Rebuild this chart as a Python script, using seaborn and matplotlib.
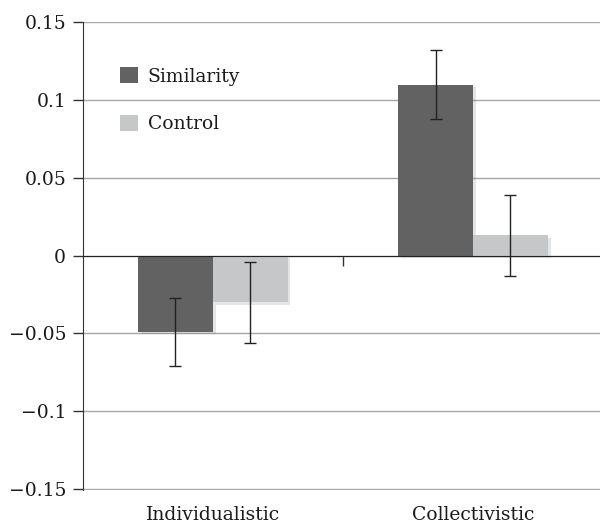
import matplotlib
matplotlib.use("Agg")
import matplotlib.pyplot as plt
import matplotlib.patheffects as pe
from matplotlib.patches import Patch
import seaborn as sns
import pandas as pd

categories = ["Individualistic", "Collectivistic"]
groups = ["Similarity", "Control"]
similarity = [-0.049, 0.110]
control = [-0.030, 0.013]
similarity_err = [0.022, 0.022]
control_err = [0.026, 0.026]
y_ticks = [-0.15, -0.1, -0.05, 0, 0.05, 0.1, 0.15]
y_labels = ["\u22120.15", "\u22120.1", "\u22120.05", "0", "0.05", "0.1", "0.15"]

colors = ["#626262", "#c6c7c8"]

df = pd.DataFrame({
    "culture": categories * 2,
    "condition": [groups[0]] * 2 + [groups[1]] * 2,
    "value": similarity + control,
    "err": similarity_err + control_err,
})

sns.set_style("white")
plt.rcParams["font.family"] = ["DejaVu Serif"]
plt.rcParams["text.color"] = "#1a1a1a"
plt.rcParams["xtick.color"] = "#1a1a1a"
plt.rcParams["ytick.color"] = "#1a1a1a"

fig = plt.figure(figsize=(6, 5.27), dpi=100)
ax = fig.add_axes([0.138, 0.071, 0.862, 0.887])

sns.barplot(data=df, x="culture", y="value", hue="condition", order=categories,
            hue_order=groups, palette=colors, width=0.575, errorbar=None,
            saturation=1, legend=False, ax=ax, zorder=3)

# soft shadow on each bar
for bar in ax.patches:
    bar.set_linewidth(0)
    bar.set_path_effects([pe.SimplePatchShadow(offset=(2, -2), alpha=0.15, shadow_rgbFace="#555555"),
                          pe.Normal()])

for j, g in enumerate(groups):
    sub = df[df["condition"] == g].set_index("culture").loc[categories]
    bars = ax.containers[j]
    xs = [b.get_x() + b.get_width() / 2 for b in bars]
    ax.errorbar(xs, sub["value"], yerr=sub["err"], fmt="none", ecolor="#222222",
                elinewidth=1, capsize=4, capthick=1, zorder=5)

ax.set_ylim(-0.1506, 0.1502)
ax.set_xlim(-0.5, 1.488)
ax.set_yticks(y_ticks)
ax.set_yticklabels(y_labels, fontsize=13.5)
ax.yaxis.grid(True, color="#a6a6a6", linewidth=1)
ax.set_axisbelow(True)
ax.tick_params(axis="y", length=7, width=1, color="#333333", pad=5, left=True)

for side in ["top", "right"]:
    ax.spines[side].set_visible(False)
ax.spines["left"].set_color("#333333")
ax.spines["bottom"].set_position(("data", 0))
ax.spines["bottom"].set_color("#222222")
ax.spines["bottom"].set_zorder(4)

ax.set_xticks([0, 1])
ax.set_xticklabels([])
ax.set_xticks([0.5], minor=True)
ax.tick_params(axis="x", which="major", length=0)
ax.tick_params(axis="x", which="minor", length=7, width=1, color="#333333", direction="out", bottom=True)

sec = ax.secondary_xaxis("bottom")
sec.set_xticks([0, 1])
sec.set_xticklabels(categories, fontsize=13.5)
sec.tick_params(length=0, pad=12)
sec.spines["bottom"].set_visible(False)

ax.set_xlabel("")
ax.set_ylabel("")

handles = [Patch(facecolor=c, edgecolor="none") for c in colors]
ax.legend(handles, groups, loc="upper left", bbox_to_anchor=(0.04, 0.94), frameon=False,
          fontsize=13.5, handlelength=0.95, handleheight=0.95, labelspacing=1.55, handletextpad=0.5)

plt.savefig("out.png", dpi=100)
